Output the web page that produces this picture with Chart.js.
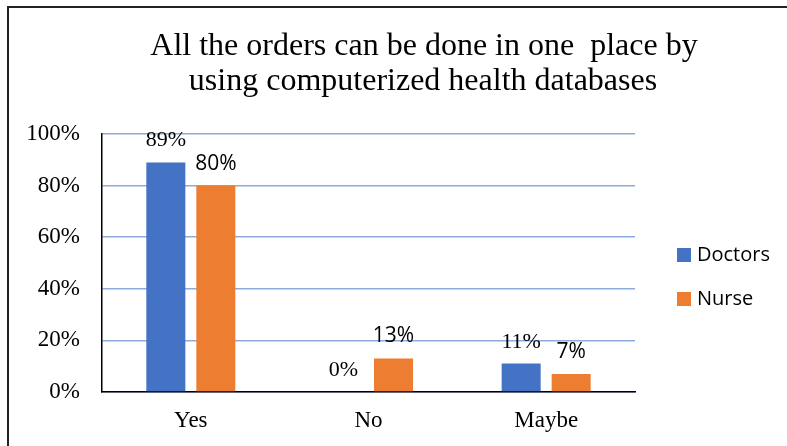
<!DOCTYPE html>
<html>
<head>
<meta charset="utf-8">
<script src="https://cdn.jsdelivr.net/npm/chart.js@4.4.1/dist/chart.umd.min.js"></script>
<style>
  html, body { margin: 0; padding: 0; background: #fff; }
  #wrap { position: absolute; left: 0; top: 0; width: 787px; height: 446px; }
</style>
</head>
<body>
<div id="wrap"><canvas id="orderChart" width="787" height="446"></canvas></div>
<script>
// chart data
const categories = ["Yes", "No", "Maybe"];
const doctors = [0.89, 0, 0.11];
const nurse = [0.80, 0.13, 0.07];
const yTicks = [0, 0.2, 0.4, 0.6, 0.8, 1.0];
const titleLines = ["All the orders can be done in one  place by", "using computerized health databases"];

const serif = "'Liberation Serif', 'Times New Roman', serif";
const sans = "'Open Sans', 'Noto Sans', sans-serif";

// white background + the frame lines (top and left)
const framePlugin = {
    id: "frame",
    beforeDraw(chart) {
        const c = chart.ctx;
        c.save();
        c.fillStyle = "#ffffff";
        c.fillRect(0, 0, chart.width, chart.height);
        c.strokeStyle = "#222222";
        c.lineWidth = 2;
        c.beginPath();
        c.moveTo(7, 7);
        c.lineTo(chart.width, 7);
        c.moveTo(8, 7);
        c.lineTo(8, chart.height);
        c.stroke();
        c.restore();
    }
};

// title drawn on two lines
const titlePlugin = {
    id: "twoLineTitle",
    afterDraw(chart) {
        const c = chart.ctx;
        c.save();
        c.font = "32px " + serif;
        c.fillStyle = "#000";
        c.textAlign = "center";
        c.textBaseline = "middle";
        c.fillText(titleLines[0], 424, 47);
        c.fillText(titleLines[1], 423, 82);
        c.restore();
    }
};

// value labels above the bars
const valueLabels = {
    id: "valueLabels",
    afterDatasetsDraw(chart) {
        const c = chart.ctx;
        c.save();
        c.fillStyle = "#000";
        c.textAlign = "center";
        c.textBaseline = "alphabetic";
        chart.data.datasets.forEach((ds, i) => {
            const meta = chart.getDatasetMeta(i);
            c.font = i === 0 ? "22px " + serif : "21px " + sans;
            meta.data.forEach((bar, j) => {
                const txt = Math.round(ds.data[j] * 100) + "%";
                c.fillText(txt, bar.x, bar.y - 16);
            });
        });
        c.restore();
    }
};

// legend on the right side
const sideLegend = {
    id: "sideLegend",
    afterDraw(chart) {
        const c = chart.ctx;
        c.save();
        c.font = "20px " + sans;
        c.textBaseline = "middle";
        c.textAlign = "left";
        chart.data.datasets.forEach((ds, i) => {
            const y = 255 + i * 44;
            c.fillStyle = ds.backgroundColor;
            c.fillRect(677, y - 7, 14, 14);
            c.fillStyle = "#000";
            c.fillText(ds.label, 697, y);
        });
        c.restore();
    }
};

const ctx = document.getElementById("orderChart").getContext("2d");
new Chart(ctx, {
    type: "bar",
    data: {
        labels: categories,
        datasets: [
            {
                label: "Doctors",
                data: doctors,
                backgroundColor: "#4472C4",
                barPercentage: 0.78,
                categoryPercentage: 0.563
            },
            {
                label: "Nurse",
                data: nurse,
                backgroundColor: "#ED7D31",
                barPercentage: 0.78,
                categoryPercentage: 0.563
            }
        ]
    },
    options: {
        responsive: false,
        animation: false,
        layout: {
            padding: { left: 0, right: 152, top: 134, bottom: 0 }
        },
        plugins: {
            legend: { display: false },
            title: { display: false },
            tooltip: { enabled: false }
        },
        scales: {
            x: {
                grid: { display: false, drawTicks: false },
                border: { color: "#000", width: 1.5 },
                ticks: {
                    color: "#000",
                    font: { family: serif, size: 23 },
                    padding: 15
                },
                afterFit(scale) { scale.height = 54; }
            },
            y: {
                min: 0,
                max: 1,
                afterBuildTicks(scale) {
                    scale.ticks = yTicks.map(v => ({ value: v }));
                },
                grid: { color: "#8FAADC", lineWidth: 1.5, drawTicks: false },
                border: { color: "#000", width: 1.5 },
                ticks: {
                    color: "#000",
                    font: { family: serif, size: 23 },
                    padding: 22,
                    callback: v => Math.round(v * 100) + "%"
                },
                afterFit(scale) { scale.width = 102; }
            }
        }
    },
    plugins: [framePlugin, titlePlugin, valueLabels, sideLegend]
});
</script>
</body>
</html>
